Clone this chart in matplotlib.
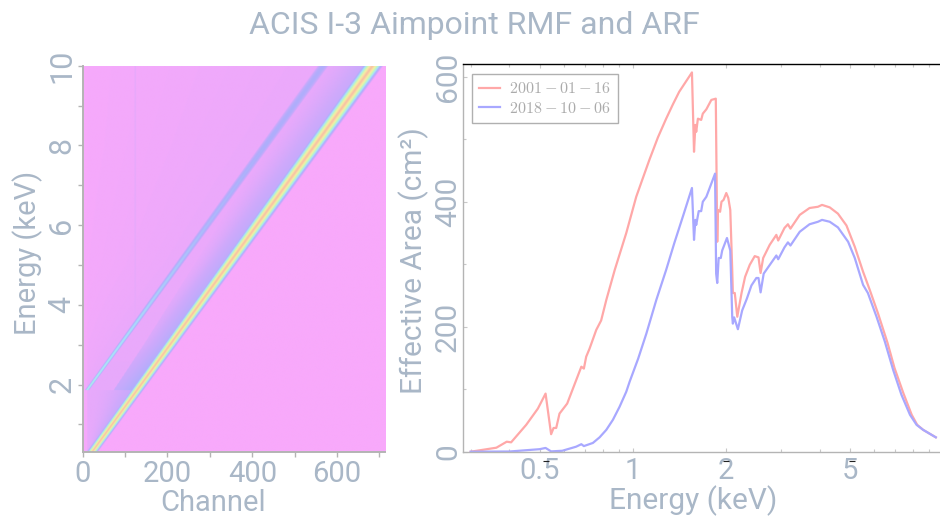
import numpy as np
import matplotlib
matplotlib.use("Agg")
import matplotlib.pyplot as plt
from matplotlib.colors import LinearSegmentedColormap
from matplotlib.ticker import FixedLocator, NullFormatter

plt.rcParams['font.family'] = ['Roboto', 'DejaVu Sans']
plt.rcParams['mathtext.fontset'] = 'cm'

TITLE = "ACIS I-3 Aimpoint RMF and ARF"
TXT = '#a9b7c7'
AX = '#b4b4b4'

# ---- ARF curves
e_2001 = [0.30,0.363,0.392,0.405,0.453,0.494,0.523,0.545,0.555,0.566,0.580,0.614,0.682,0.695,0.707,0.725,0.762,0.79,0.821,0.874,0.952,1.025,1.077,1.13,1.204,1.28,1.346,1.41,1.55,1.574,1.59,1.60,1.62,1.66,1.68,1.725,1.79,1.85,1.87,1.88,1.91,1.93,1.96,2.00,2.03,2.06,2.09,2.10,2.13,2.17,2.24,2.30,2.38,2.47,2.54,2.58,2.63,2.76,2.90,2.94,3.08,3.16,3.22,3.45,3.71,3.95,4.07,4.31,4.58,4.88,5.19,5.52,5.80,6.17,6.62,6.97,7.44,7.92,8.25,8.62,9.47]
a_2001 = [0,6.4,16,15,43,69,93,28,38,38,61,77,136,133,152,165,195,210,243,291,350,408,438,467,503,533,556,576,607,480,523,512,533,531,541,548,563,565,336,387,384,400,403,414,406,387,291,254,254,216,254,280,299,313,311,286,310,331,347,338,358,364,357,379,390,392,395,391,381,362,328,288,259,221,174,134,94,59,43,35,23]
e_2018 = [0.30,0.40,0.50,0.523,0.545,0.592,0.656,0.682,0.695,0.743,0.781,0.821,0.862,0.906,0.952,0.976,1.04,1.105,1.19,1.28,1.36,1.457,1.55,1.574,1.59,1.60,1.63,1.66,1.68,1.725,1.84,1.855,1.87,1.89,1.92,1.94,2.01,2.06,2.09,2.10,2.12,2.18,2.25,2.33,2.41,2.50,2.54,2.58,2.64,2.90,2.94,3.08,3.16,3.22,3.45,3.71,3.95,4.07,4.31,4.58,4.94,5.19,5.52,5.72,6.10,6.49,6.90,7.34,7.82,8.21,8.62,9.47]
a_2018 = [0,0.3,4,6,0.5,1.5,8,12,9,14,23,35,51,72,96,112,149,189,243,291,334,380,422,339,371,363,385,385,400,408,445,285,270,310,310,322,342,322,216,205,215,196,226,245,266,278,278,255,285,314,308,327,335,330,352,364,368,371,368,359,336,310,267,254,216,176,131,91,59,43,35,23]
series_labels = ["$2001-01-16$", "$2018-10-06$"]
series_colors = ['#ffa8a8', '#a8a8ff']

# ---- RMF picture
rmf_cols = ['#f8a9fb', '#cfa9fb', '#aeaefc', '#a9e2fb', '#bff8c0', '#f6efa4', '#f9bda4']
rmf_stops = [0, .12, .27, .42, .56, .74, 1]
line_energy = [0.3, 10.0]
main_channel = [22, 682]
escape_energy = [1.85, 10.0]
escape_channel = [10, 566]
edge_energy = 1.85
main_width = [14, 26]                    # half width vs line_energy
main_off = [-1.0, -.72, -.5, -.25, 0, .25, .5, .72, 1.0]
main_lvl = [.03, .30, .52, .76, 1.0, .76, .52, .30, 0]
esc_e = [1.85, 3, 4, 6, 8, 10]
esc_lvl = [.47, .43, .38, .31, .28, .26]
esc_w = [3.5, 4.5, 5.5, 7.0, 8.5, 9.5]
sh_e = [1.86, 3, 5, 7, 10]
sh_near = [.30, .27, .24, .20, .17]        # level next to the main line
sh_far = [.15, .09, .05, .045, .045]       # level at the edge of the shoulder
sh_len = [55, 62, 80, 100, 116]            # reach of the shoulder, channels
low_near = [.18, .05]                      # below the edge: near the line, at channel 10
tint_e = [1.86, 3, 5, 8, 10]
tint_far = [.03, .02, .01, .008, .008]     # far left of the escape line
tint_near = [.05, .045, .04, .04, .04]     # just left of the escape line
left_edge_channel = 10
col_line_channel = 123
col_line_lvl = .05

x_lim = (0, 713); y_lim_l = (0.3, 10)
x_ticks_l = [0, 200, 400, 600]; x_minor_l = [100, 300, 500, 700]
y_ticks_l = [2, 4, 6, 8, 10]; y_minor_l = [1, 3, 5, 7, 9]
x_ticks_r = [0.5, 1, 2, 5]; x_tl_r = ['0.5', '1', '2', '5']
x_minor_r = [.3, .4, .6, .7, .8, .9, 3, 4, 6, 7, 8, 9]
y_ticks_r = [0, 200, 400, 600]; y_minor_r = [100, 300, 500]
artifact_x = [0.523, 2.0, 5.07]

W, H = 940, 516
fig = plt.figure(figsize=(W/100, H/100), dpi=100)
def box(l, t, r, b):
    return [l/W, 1-b/H, (r-l)/W, (b-t)/H]
def ftext(x, y, s, **k):
    fig.text(x/W, 1-y/H, s, color=TXT, ha='center', va='center', **k)

# ---- left
ax = fig.add_axes(box(82.7, 65.7, 385, 452.3))
ch = np.arange(0.5, 713, 1.0)
en = np.linspace(0.3, 10, 500)
img = np.zeros((en.size, ch.size))
cm_ = np.interp(en, line_energy, main_channel)
wd = np.interp(en, line_energy, main_width)
ce = np.interp(en, escape_energy, escape_channel)
for i, E in enumerate(en):
    d = ch - cm_[i]
    lv = np.interp(d/wd[i], main_off, main_lvl, left=0, right=0)
    left = d < 0
    if E >= edge_energy:
        near = np.interp(E, sh_e, sh_near); far = np.interp(E, sh_e, sh_far); ln = np.interp(E, sh_e, sh_len)
        frac = np.clip(1 + d/ln, 0, 1)
        sh = np.where(frac > 0, far + (near-far)*frac**1.3, 0)
        lv = np.maximum(lv, np.where(left, sh, 0))
        tf = np.clip(ch/ce[i], 0, 1)
        tint = np.interp(E, tint_e, tint_far) + (np.interp(E, tint_e, tint_near)-np.interp(E, tint_e, tint_far))*tf
        tint = np.where(ch < left_edge_channel, tint*.4, tint)
        lv = np.maximum(lv, np.where(left, tint, 0))
        w = np.interp(E, esc_e, esc_w)
        peak = np.interp(E, esc_e, esc_lvl)
        de = np.abs(ch-ce[i])/w
        lv = np.maximum(lv, np.interp(de, [0, .5, 1, 1.6], [peak, peak*.93, peak*.6, 0]))
        if ce[i] > col_line_channel:
            lv = np.where(np.abs(ch-col_line_channel) < 2.5, np.maximum(lv, col_line_lvl), lv)
    else:
        frac = np.clip((ch-left_edge_channel)/np.maximum(cm_[i]-left_edge_channel, 1), 0, 1)
        low = low_near[1] + (low_near[0]-low_near[1])*frac**2
        low = np.where(ch < left_edge_channel, .01, low)
        lv = np.maximum(lv, np.where(left, low, 0))
    img[i] = lv
cmap = LinearSegmentedColormap.from_list('rmf', list(zip(rmf_stops, rmf_cols)))
ax.imshow(img, origin='lower', extent=[0, 713, 0.3, 10], aspect='auto', cmap=cmap, vmin=0, vmax=1, interpolation='bilinear')
ax.set_xlim(x_lim); ax.set_ylim(y_lim_l)
for s in ('top', 'right'):
    ax.spines[s].set_visible(False)
for s in ('left', 'bottom'):
    ax.spines[s].set_color(AX); ax.spines[s].set_linewidth(1.4)
ax.set_xticks(x_ticks_l); ax.set_xticks(x_minor_l, minor=True)
ax.set_yticks(y_ticks_l); ax.set_yticks(y_minor_l, minor=True)
ax.tick_params(which='both', direction='out', length=3.5, width=1, color=AX, labelcolor=TXT, labelsize=21)
ax.tick_params(axis='x', pad=2)
ax.tick_params(axis='y', labelsize=22, pad=1)
for t in ax.get_yticklabels():
    t.set_rotation(90); t.set_va('center')
ftext(213, 503, 'Channel', fontsize=21)
ftext(28, 253, 'Energy (keV)', fontsize=21, rotation=90)

# ---- right
ar = fig.add_axes(box(463.3, 64.3, 940, 451.7))
ar.set_xscale('log')
l1, = ar.plot(e_2001, a_2001, color=series_colors[0], lw=1.6, label=series_labels[0])
l2, = ar.plot(e_2018, a_2018, color=series_colors[1], lw=1.6, label=series_labels[1])
ar.set_xlim(0.284, 9.77); ar.set_ylim(0, 620)
ar.spines['right'].set_visible(False)
ar.spines['top'].set_color('black'); ar.spines['top'].set_linewidth(1.0)
for s in ('left', 'bottom'):
    ar.spines[s].set_color(AX); ar.spines[s].set_linewidth(1.0)
ar.xaxis.set_major_locator(FixedLocator(x_ticks_r))
ar.xaxis.set_minor_locator(FixedLocator(x_minor_r))
ar.xaxis.set_minor_formatter(NullFormatter())
ar.set_xticklabels(x_tl_r)
ar.set_yticks(y_ticks_r); ar.set_yticks(y_minor_r, minor=True)
ar.tick_params(which='major', direction='in', length=3, width=.8, color='#c8c8c8', labelcolor=TXT, labelsize=21, top=True)
ar.tick_params(which='minor', direction='in', length=2, width=.8, color='#c8c8c8', top=True)
ar.tick_params(axis='x', pad=4)
ar.tick_params(axis='y', labelsize=21.5, pad=1)
for t in ar.get_yticklabels():
    t.set_rotation(90); t.set_va('center')
ar.plot(artifact_x, [-.024*620]*3, ls='none', marker='_', ms=5, mew=.8, color='#222222', clip_on=False)
ar.set_ylim(0, 620)
ftext(693, 501, 'Energy (keV)', fontsize=21.5)
ftext(414, 261, 'Effective Area (cm²)', fontsize=21.5, rotation=90)
leg = ar.legend(handles=[l1, l2], loc='upper left', bbox_to_anchor=((472-463.3)/476.7, 1-(74-64.3)/387.4),
                fontsize=11.6, frameon=True, fancybox=False, framealpha=1, edgecolor='#b0b0b0',
                borderaxespad=0, handlelength=1.3, handletextpad=.55, borderpad=.45, labelspacing=.3, labelcolor='#ababab')
leg.get_frame().set_linewidth(1.0)

ftext(474, 26, TITLE, fontsize=23)
fig.savefig('out.png', dpi=100, facecolor='white')
